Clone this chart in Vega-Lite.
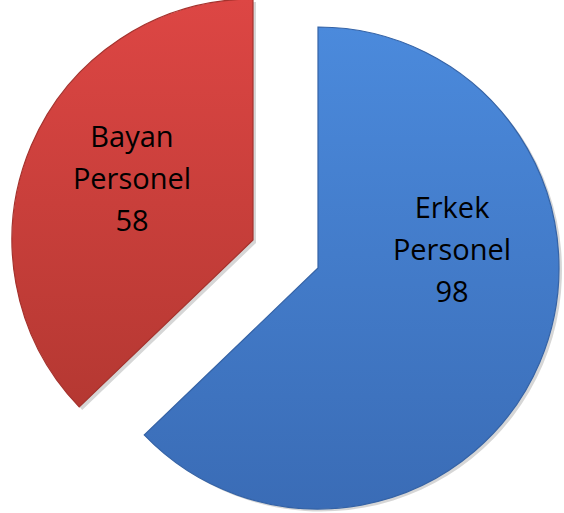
{
  "$schema": "https://vega.github.io/schema/vega-lite/v6.json",
  "width": 564,
  "height": 513,
  "autosize": {"type": "none"},
  "padding": 0,
  "background": "white",
  "config": {"view": {"stroke": null}},
  "data": {
    "values": [
      {"label": "Erkek Personel", "value": 98, "order": 1},
      {"label": "Bayan Personel", "value": 58, "order": 2}
    ]
  },
  "transform": [
    {"stack": "value", "groupby": [], "sort": [{"field": "order", "order": "ascending"}], "as": ["t0", "t1"]},
    {"calculate": "datum.label + ' ' + datum.value", "as": "text"}
  ],
  "layer": [
    {
      "transform": [{"filter": "datum.order == 1"}],
      "mark": {"type": "arc", "outerRadius": 241, "xOffset": 39, "yOffset": 14, "color": "#000000", "opacity": 0.16},
      "encoding": {
        "theta": {"field": "t0", "type": "quantitative", "stack": null, "scale": {"domain": [0, 156], "nice": false, "zero": true}},
        "theta2": {"field": "t1"}
      }
    },
    {
      "transform": [{"filter": "datum.order == 2"}],
      "mark": {"type": "arc", "outerRadius": 241, "xOffset": -26, "yOffset": -13.5, "color": "#000000", "opacity": 0.16},
      "encoding": {
        "theta": {"field": "t0", "type": "quantitative", "stack": null},
        "theta2": {"field": "t1"}
      }
    },
    {
      "transform": [{"filter": "datum.order == 1"}],
      "mark": {
        "type": "arc", "outerRadius": 241, "xOffset": 36, "yOffset": 11.5,
        "color": {"gradient": "linear", "x1": 0, "y1": 0, "x2": 0, "y2": 1,
          "stops": [{"offset": 0, "color": "#4b8adc"}, {"offset": 1, "color": "#3a6cb6"}]},
        "stroke": "#3563a6", "strokeWidth": 1.2
      },
      "encoding": {
        "theta": {"field": "t0", "type": "quantitative", "stack": null},
        "theta2": {"field": "t1"}
      }
    },
    {
      "transform": [{"filter": "datum.order == 2"}],
      "mark": {
        "type": "arc", "outerRadius": 241, "xOffset": -29, "yOffset": -16.5,
        "color": {"gradient": "linear", "x1": 0, "y1": 0, "x2": 0, "y2": 1,
          "stops": [{"offset": 0, "color": "#dd4644"}, {"offset": 1, "color": "#b53832"}]},
        "stroke": "#a5322d", "strokeWidth": 1.2
      },
      "encoding": {
        "theta": {"field": "t0", "type": "quantitative", "stack": null},
        "theta2": {"field": "t1"}
      }
    },
    {
      "transform": [{"filter": "datum.order == 1"}],
      "mark": {"type": "text", "xOffset": 170, "yOffset": -47.5, "lineBreak": " ", "lineHeight": 42,
        "font": "Open Sans", "fontSize": 29, "color": "#000000", "align": "center", "baseline": "middle"},
      "encoding": {"text": {"field": "text"}}
    },
    {
      "transform": [{"filter": "datum.order == 2"}],
      "mark": {"type": "text", "xOffset": -150, "yOffset": -118.5, "lineBreak": " ", "lineHeight": 42,
        "font": "Open Sans", "fontSize": 29, "color": "#000000", "align": "center", "baseline": "middle"},
      "encoding": {"text": {"field": "text"}}
    }
  ]
}
